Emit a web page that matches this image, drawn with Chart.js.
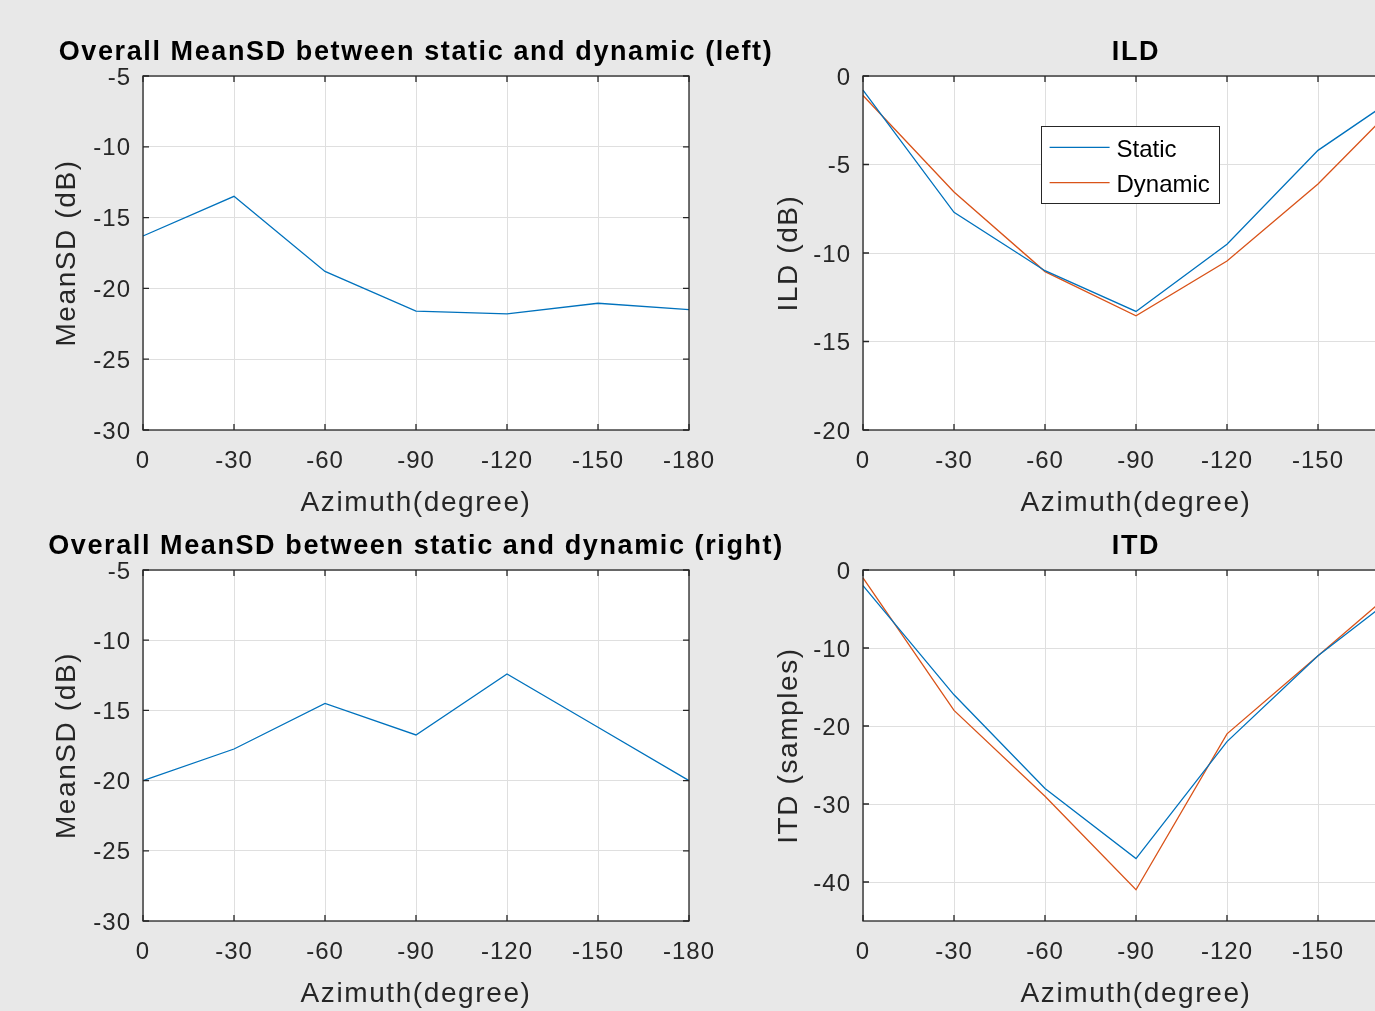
<!DOCTYPE html>
<html><head><meta charset="utf-8">
<script src="https://cdn.jsdelivr.net/npm/chart.js@4/dist/chart.umd.min.js"></script>
<style>
html,body{margin:0;padding:0;width:1375px;height:1011px;overflow:hidden;background:#e8e8e8;}
canvas{position:absolute;}
</style></head><body>
<script>
// ---------- data ----------
const azimuthLabels = ['0', '-30', '-60', '-90', '-120', '-150', '-180'];
const meanSDLeft  = [-16.3, -13.5, -18.8, -21.6, -21.8, -21.05, -21.5];
const meanSDRight = [-20.0, -17.75, -14.5, -16.75, -12.4, -16.2, -20.0];
const ildStatic   = [-0.8, -7.7, -11.0, -13.3, -9.5, -4.2, -0.7];
const ildDynamic  = [-1.1, -6.55, -11.05, -13.55, -10.45, -6.1, -0.9];
const itdStatic   = [-2, -16, -28, -37, -22, -11, -2];
const itdDynamic  = [-1, -18, -29, -41, -21, -11, -1];
const meanSDTicks = [-30, -25, -20, -15, -10, -5];
const ildTicks    = [-20, -15, -10, -5, 0];
const itdTicks    = [-40, -30, -20, -10, 0];
const seriesNames = ['Static', 'Dynamic'];

const BLUE = '#0072BD', ORANGE = '#D95319', AX = '#262626';
const FONT = '"Liberation Sans", Arial, Helvetica, sans-serif';
Chart.defaults.font.family = FONT;

const matlabPlugin = {
  id: 'matlabAxes',
  beforeDraw(chart) {
    const {ctx, chartArea: a} = chart;
    ctx.save();
    ctx.fillStyle = '#ffffff';
    ctx.fillRect(a.left, a.top, a.right - a.left, a.bottom - a.top);
    ctx.restore();
    ctx.letterSpacing = '1.6px';
  },
  afterDatasetsDraw(chart) { chart.ctx.letterSpacing = '1px'; },
  afterDraw(chart, args, opts) {
    const {ctx, chartArea: a, scales} = chart;
    ctx.letterSpacing = '0px';
    ctx.save();
    ctx.strokeStyle = AX;
    ctx.lineWidth = 1.3;
    const L = 6;
    ctx.beginPath();
    scales.x.ticks.forEach((t, i) => {
      const px = scales.x.getPixelForTick(i);
      ctx.moveTo(px, a.bottom); ctx.lineTo(px, a.bottom - L);
      ctx.moveTo(px, a.top); ctx.lineTo(px, a.top + L);
    });
    scales.y.ticks.forEach(t => {
      const py = scales.y.getPixelForValue(t.value);
      ctx.moveTo(a.left, py); ctx.lineTo(a.left + L, py);
      ctx.moveTo(a.right, py); ctx.lineTo(a.right - L, py);
    });
    ctx.stroke();
    ctx.strokeRect(a.left, a.top, a.right - a.left, a.bottom - a.top);
    if (opts && opts.legend) {
      const lg = opts.legend;
      const bx = a.left + lg.dx, by = a.top + lg.dy;
      ctx.fillStyle = '#ffffff';
      ctx.fillRect(bx, by, lg.w, lg.h);
      ctx.lineWidth = 1;
      ctx.strokeStyle = AX;
      ctx.strokeRect(bx + 0.5, by + 0.5, lg.w, lg.h);
      ctx.font = '24px ' + FONT;
      ctx.textBaseline = 'middle';
      ctx.textAlign = 'left';
      chart.data.datasets.forEach((ds, i) => {
        const ly = by + lg.rows[i];
        ctx.strokeStyle = ds.borderColor;
        ctx.lineWidth = 1.3;
        ctx.beginPath();
        ctx.moveTo(bx + lg.x0, ly); ctx.lineTo(bx + lg.x1, ly);
        ctx.stroke();
        ctx.fillStyle = '#000000';
        ctx.fillText(ds.label, bx + lg.tx, ly + 3);
      });
    }
    ctx.restore();
  }
};

function makeChart(p) {
  const c = document.createElement('canvas');
  c.width = 832; c.height = p.height;
  c.style.left = p.left + 'px'; c.style.top = p.top + 'px';
  c.style.width = '832px'; c.style.height = p.height + 'px';
  document.body.appendChild(c);
  return new Chart(c, {
    type: 'line',
    data: {
      labels: azimuthLabels,
      datasets: p.series.map(s => ({
        label: s.label, data: s.data, borderColor: s.color, backgroundColor: s.color,
        borderWidth: 1.3, pointRadius: 0, pointHoverRadius: 0, tension: 0, fill: false
      }))
    },
    options: {
      responsive: false, animation: false, devicePixelRatio: 1,
      layout: { padding: 0 },
      plugins: {
        legend: { display: false },
        tooltip: { enabled: false },
        title: {
          display: true, text: p.title, color: '#000000',
          font: { size: 27, weight: 'bold', family: FONT },
          padding: { top: 36.4, bottom: 7.2 }
        },
        matlabAxes: { legend: p.legend || null }
      },
      scales: {
        x: {
          type: 'category', offset: false,
          grid: { color: '#dfdfdf', lineWidth: 1, drawTicks: false },
          border: { display: false },
          ticks: { color: AX, font: { size: 24 }, padding: 17, autoSkip: false, maxRotation: 0, z: 1 },
          title: { display: true, text: 'Azimuth(degree)', color: AX, font: { size: 28 }, padding: { top: 0, bottom: 10.2 } },
          afterFit(s) { s.height = 100; }
        },
        y: {
          type: 'linear', position: 'left', min: p.min, max: p.max,
          afterBuildTicks(s) { s.ticks = p.ticks.map(v => ({ value: v })); },
          grid: { color: '#dfdfdf', lineWidth: 1, drawTicks: false },
          border: { display: false },
          ticks: { color: AX, font: { size: 24 }, padding: 12, labelOffset: 2, z: 1 },
          title: { display: true, text: p.ytitle, color: AX, font: { size: 28 }, padding: { top: p.ytitlePad, bottom: 0 } },
          afterFit(s) { s.width = 143; }
        },
        yR: {
          type: 'linear', position: 'right', display: true,
          grid: { display: false, drawTicks: false }, border: { display: false },
          ticks: { display: false },
          afterFit(s) { s.width = 143; }
        }
      }
    },
    plugins: [matlabPlugin]
  });
}

makeChart({
  left: 0, top: 0, height: 530,
  title: 'Overall MeanSD between static and dynamic (left)',
  ytitle: 'MeanSD (dB)', ytitlePad: 50.2, min: -30, max: -5, ticks: meanSDTicks,
  series: [{ label: seriesNames[0], data: meanSDLeft, color: BLUE }]
});
makeChart({
  left: 720, top: 0, height: 530,
  title: 'ILD',
  ytitle: 'ILD (dB)', ytitlePad: 52.7, min: -20, max: 0, ticks: ildTicks,
  series: [
    { label: seriesNames[0], data: ildStatic, color: BLUE },
    { label: seriesNames[1], data: ildDynamic, color: ORANGE }
  ],
  legend: { dx: 178, dy: 50, w: 178, h: 77, x0: 8.6, x1: 68.6, tx: 75.5, rows: [21.3, 56.7] }
});
makeChart({
  left: 0, top: 494, height: 527,
  title: 'Overall MeanSD between static and dynamic (right)',
  ytitle: 'MeanSD (dB)', ytitlePad: 50.2, min: -30, max: -5, ticks: meanSDTicks,
  series: [{ label: seriesNames[0], data: meanSDRight, color: BLUE }]
});
makeChart({
  left: 720, top: 494, height: 527,
  title: 'ITD',
  ytitle: 'ITD (samples)', ytitlePad: 52.7, min: -45, max: 0, ticks: itdTicks,
  series: [
    { label: seriesNames[0], data: itdStatic, color: BLUE },
    { label: seriesNames[1], data: itdDynamic, color: ORANGE }
  ]
});
</script>
</body></html>
